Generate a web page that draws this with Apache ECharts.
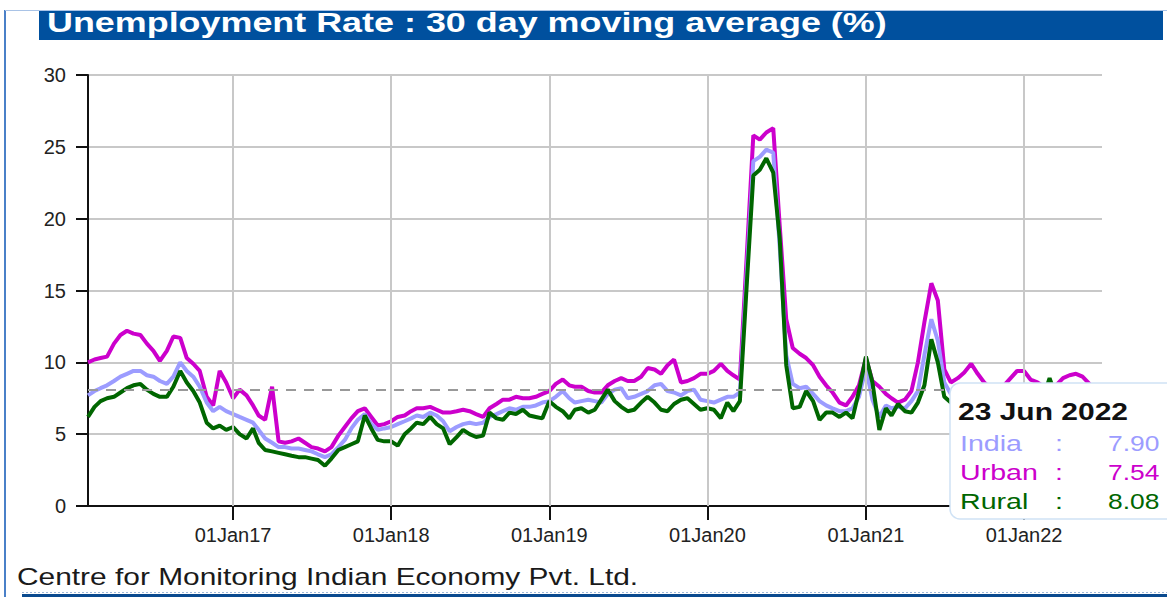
<!DOCTYPE html>
<html>
<head>
<meta charset="utf-8">
<script src="https://cdn.jsdelivr.net/npm/echarts@6/dist/echarts.min.js"></script>
<style>
html,body{margin:0;padding:0;background:#fff;}
#chart{width:1167px;height:597px;}
</style>
</head>
<body>
<div id="chart"></div>
<script>
// ---- DATA ----
const titleText = 'Unemployment Rate : 30 day moving average (%)';
const sourceText = 'Centre for Monitoring Indian Economy Pvt. Ltd.';
const seriesNames = ['India', 'Urban', 'Rural'];

// sampling dates: 1st and 16th of each month, Feb 2016 .. Jun 2022, plus last observation
const dates = [];
(function () {
  const pad = n => (n < 10 ? '0' : '') + n;
  for (let y = 2016; y <= 2022; y++) {
    for (let m = 1; m <= 12; m++) {
      if (y === 2016 && m < 2) continue;
      if (y === 2022 && m > 6) continue;
      dates.push(y + '-' + pad(m) + '-01');
      dates.push(y + '-' + pad(m) + '-16');
    }
  }
  dates.push('2022-06-23');
})();

const urban = [
  10.0, 10.2, 10.3, 10.4, 11.3, 11.9, 12.2, 12.0, 11.9, 11.3, 10.8, 10.1, 10.8, 11.8, 11.7, 10.3, 9.9, 9.4, 7.6, 7.0, 9.4, 8.6,
  7.5, 8.1, 7.7, 7.0, 6.3, 6.0, 8.3, 4.5, 4.4, 4.5, 4.7, 4.4, 4.1, 4.0, 3.8, 4.1, 4.9, 5.5, 6.1, 6.6, 6.8, 6.2, 5.6, 5.7,
  5.9, 6.2, 6.3, 6.6, 6.8, 6.8, 6.9, 6.7, 6.5, 6.5, 6.6, 6.7, 6.6, 6.4, 6.2, 6.8, 7.1, 7.4, 7.4, 7.6, 7.5, 7.5, 7.6, 7.8,
  8.0, 8.5, 8.8, 8.4, 8.3, 8.3, 8.0, 7.9, 7.9, 8.4, 8.7, 8.9, 8.7, 8.7, 9.0, 9.6, 9.5, 9.2, 9.8, 10.2, 8.6, 8.7, 8.9, 9.2,
  9.2, 9.4, 9.9, 9.4, 9.1, 8.8, 17.5, 25.8, 25.5, 26.0, 26.3, 19.5, 13.0, 11.0, 10.6, 10.3, 9.8, 9.0, 8.4, 7.9, 7.2, 7.0, 7.6, 8.4,
  10.3, 8.7, 8.3, 7.8, 7.5, 7.2, 7.4, 8.0, 10.0, 12.8, 15.5, 14.3, 9.5, 8.6, 8.9, 9.3, 9.9, 9.2, 8.6, 8.2, 8.3, 8.4, 8.9, 9.4,
  9.4, 8.8, 8.6, 8.3, 8.2, 8.4, 8.9, 9.1, 9.2, 9.0, 8.5, 7.9, 7.54
];
const india = [
  7.7, 8.0, 8.2, 8.4, 8.7, 9.0, 9.2, 9.4, 9.4, 9.1, 9.0, 8.7, 8.5, 9.0, 10.0, 9.4, 9.0, 8.3, 7.2, 6.6, 6.9, 6.6,
  6.4, 6.2, 6.0, 5.8, 5.3, 4.7, 4.4, 4.1, 4.1, 4.0, 4.0, 3.9, 3.8, 3.6, 3.4, 3.6, 4.1, 4.6, 5.4, 6.0, 6.4, 5.7, 5.3, 5.4,
  5.5, 5.7, 5.9, 6.1, 6.3, 6.2, 6.5, 6.3, 5.9, 5.2, 5.5, 5.7, 5.8, 5.7, 5.8, 6.2, 6.4, 6.6, 6.8, 6.7, 6.9, 6.9, 7.0, 7.2,
  7.3, 7.6, 8.0, 7.5, 7.2, 7.3, 7.4, 7.3, 7.2, 7.8, 8.1, 8.2, 7.5, 7.6, 7.8, 8.0, 8.4, 8.5, 8.0, 7.9, 7.7, 8.0, 8.1, 7.4,
  7.3, 7.2, 7.4, 7.6, 7.6, 7.9, 16.3, 24.0, 24.3, 24.8, 24.6, 18.0, 10.5, 8.5, 8.2, 8.3, 7.8, 7.3, 7.0, 6.8, 6.6, 6.6, 6.8, 7.6,
  9.6, 7.4, 6.2, 7.0, 6.8, 6.9, 6.8, 7.3, 8.0, 10.5, 13.0, 11.5, 8.6, 7.8, 7.6, 7.7, 8.2, 7.9, 7.5, 7.3, 7.4, 7.5, 7.7, 7.9,
  8.0, 7.7, 7.6, 7.8, 8.1, 7.8, 7.6, 7.9, 8.0, 7.9, 7.8, 7.9, 7.90
];
const rural = [
  6.2, 6.9, 7.3, 7.5, 7.6, 7.9, 8.2, 8.4, 8.5, 8.1, 7.8, 7.6, 7.6, 8.3, 9.4, 8.6, 8.0, 7.2, 5.8, 5.4, 5.6, 5.3,
  5.5, 5.0, 4.7, 5.4, 4.4, 3.9, 3.8, 3.7, 3.6, 3.5, 3.4, 3.4, 3.3, 3.2, 2.8, 3.3, 3.9, 4.1, 4.3, 4.5, 6.3, 5.4, 4.6, 4.5,
  4.5, 4.2, 5.0, 5.4, 5.8, 5.7, 6.2, 5.7, 5.4, 4.3, 4.8, 5.3, 5.0, 4.8, 4.9, 6.5, 6.1, 6.0, 6.5, 6.4, 6.7, 6.3, 6.2, 6.1,
  7.3, 6.9, 6.6, 6.1, 6.7, 6.8, 6.5, 6.7, 7.4, 8.1, 7.3, 6.9, 6.6, 6.7, 7.2, 7.6, 7.2, 6.7, 6.6, 7.1, 7.4, 7.5, 7.1, 6.7,
  6.8, 6.7, 6.1, 7.2, 6.6, 7.3, 15.5, 23.0, 23.4, 24.2, 23.2, 18.6, 9.8, 6.8, 6.9, 8.0, 7.3, 6.0, 6.5, 6.5, 6.2, 6.5, 6.1, 8.0,
  10.4, 8.6, 5.3, 6.8, 6.3, 7.1, 6.6, 6.5, 7.2, 8.4, 11.6, 10.0, 7.6, 7.2, 7.0, 7.2, 7.7, 7.6, 7.2, 7.1, 7.3, 7.2, 7.4, 7.8,
  7.3, 7.1, 7.2, 7.7, 8.9, 7.6, 7.0, 7.3, 7.6, 7.4, 7.8, 8.0, 8.08
];

const axisStart = '2016-02-01';
const axisEnd = '2022-06-30';
const tickDates = ['2017-01-01', '2018-01-01', '2019-01-01', '2020-01-01', '2021-01-01', '2022-01-01'];
const tickLabels = ['01Jan17', '01Jan18', '01Jan19', '01Jan20', '01Jan21', '01Jan22'];
const yTicks = [0, 5, 10, 15, 20, 25, 30];
const monthNames = ['Jan','Feb','Mar','Apr','May','Jun','Jul','Aug','Sep','Oct','Nov','Dec'];

// ---- STYLE ----
const colors = { India: '#9c9cff', Urban: '#cc00cc', Rural: '#006600' };
const FONT = '"Liberation Sans", Arial, sans-serif';

function parseLocal(s) {
  const p = s.split('-').map(Number);
  return new Date(p[0], p[1] - 1, p[2]).getTime();
}
const tickValues = tickDates.map(parseLocal);
function fmtTick(v) {
  let best = 0, bd = Infinity;
  tickValues.forEach((t, i) => { const d = Math.abs(t - v); if (d < bd) { bd = d; best = i; } });
  return tickLabels[best];
}
function fmtDate(s) {
  const p = s.split('-');
  return p[2] + ' ' + monthNames[Number(p[1]) - 1] + ' ' + p[0];
}

const seriesData = { India: india, Urban: urban, Rural: rural };
const last = dates.length - 1;
const xs = dates.map(parseLocal);

const chart = echarts.init(document.getElementById('chart'), null, { renderer: 'svg' });

const TZ = 500;
const tipEls = [
  { type: 'rect', z: TZ, shape: { x: 950, y: 383, width: 240, height: 136, r: 10 }, style: { fill: '#ffffff', stroke: '#cfe2f5', lineWidth: 1.5 } },
  { type: 'text', z: TZ + 1, x: 958, y: 412, scaleX: 1.25, style: { text: fmtDate(dates[last]), font: 'bold 24px ' + FONT, fill: '#111', verticalAlign: 'middle' } }
];
seriesNames.forEach((n, i) => {
  const y = 443 + i * 29;
  tipEls.push({ type: 'text', z: TZ + 1, x: 960, y: y, scaleX: 1.3, style: { text: n, font: '22px ' + FONT, fill: colors[n], verticalAlign: 'middle' } });
  tipEls.push({ type: 'text', z: TZ + 1, x: 1055, y: y, scaleX: 1.3, style: { text: ':', font: '22px ' + FONT, fill: colors[n], verticalAlign: 'middle' } });
  tipEls.push({ type: 'text', z: TZ + 1, x: 1108, y: y, scaleX: 1.2, style: { text: seriesData[n][last].toFixed(2), font: '22px ' + FONT, fill: colors[n], verticalAlign: 'middle' } });
});

const option = {
  animation: false,
  grid: { left: 88, right: 65, top: 75, bottom: 91 },
  xAxis: {
    type: 'value',
    min: parseLocal(axisStart),
    max: parseLocal(axisEnd),
    axisLine: { onZero: false, lineStyle: { color: '#111', width: 2 } },
    axisTick: { show: true, customValues: tickValues, length: 14, lineStyle: { color: '#111', width: 2 } },
    axisLabel: { customValues: tickValues, formatter: fmtTick, fontSize: 20, color: '#222', margin: 19, fontFamily: FONT },
    splitLine: { show: false }
  },
  yAxis: {
    type: 'value',
    min: yTicks[0],
    max: yTicks[yTicks.length - 1],
    interval: yTicks[1] - yTicks[0],
    axisLine: { show: true, lineStyle: { color: '#111', width: 2 } },
    axisTick: { show: true, length: 12, lineStyle: { color: '#111', width: 2 } },
    axisLabel: { fontSize: 20, color: '#222', margin: 22, fontFamily: FONT },
    splitLine: { show: true, lineStyle: { color: '#c8c8c8', width: 2 } }
  },
  series: [
    {
      name: 'Urban', type: 'line', showSymbol: false, symbol: 'none', z: 3,
      lineStyle: { color: colors.Urban, width: 4 }, itemStyle: { color: colors.Urban },
      data: xs.map((x, i) => [x, urban[i]]),
      markLine: {
        silent: true, symbol: 'none', label: { show: false },
        lineStyle: { type: [10, 8], color: '#999', width: 2 },
        data: [{ yAxis: rural[last] }]
      }
    },
    {
      name: 'India', type: 'line', showSymbol: false, symbol: 'none', z: 3,
      lineStyle: { color: colors.India, width: 4 }, itemStyle: { color: colors.India },
      data: xs.map((x, i) => [x, india[i]])
    },
    {
      name: 'Rural', type: 'line', showSymbol: false, symbol: 'none', z: 3,
      lineStyle: { color: colors.Rural, width: 4 }, itemStyle: { color: colors.Rural },
      data: xs.map((x, i) => [x, rural[i]])
    },
    {
      // vertical year grid lines
      name: 'yearGrid', type: 'line', data: [], z: 1, silent: true,
      markLine: {
        silent: true, symbol: 'none', label: { show: false },
        lineStyle: { type: 'solid', color: '#c8c8c8', width: 2 },
        data: tickValues.map(v => ({ xAxis: v }))
      }
    }
  ],
  graphic: [
    { type: 'line', z: 100, shape: { x1: 5, y1: 10, x2: 5, y2: 597 }, style: { stroke: '#4a80c8', lineWidth: 2 } },
    { type: 'line', z: 100, shape: { x1: 5, y1: 10.5, x2: 1167, y2: 10.5 }, style: { stroke: '#a9c3e6', lineWidth: 1 } },
    { type: 'rect', z: 100, shape: { x: 39, y: 11, width: 1124, height: 29 }, style: { fill: '#00509e' } },
    { type: 'text', z: 101, x: 47, y: 23, scaleX: 1.33, style: { text: titleText, font: 'bold 27px ' + FONT, fill: '#ffffff', verticalAlign: 'middle' } },
    { type: 'text', z: 100, x: 17, y: 577, scaleX: 1.3, style: { text: sourceText, font: '23px ' + FONT, fill: '#1a1a1a', verticalAlign: 'middle' } },
    { type: 'line', z: 100, shape: { x1: 22, y1: 592.5, x2: 1167, y2: 592.5 }, style: { stroke: '#9fb8d8', lineWidth: 1, lineDash: [2, 2] } },
    { type: 'rect', z: 100, shape: { x: 22, y: 594, width: 1145, height: 3 }, style: { fill: '#0a4a8f' } }
  ].concat(tipEls)
};
chart.setOption(option);
</script>
</body>
</html>
